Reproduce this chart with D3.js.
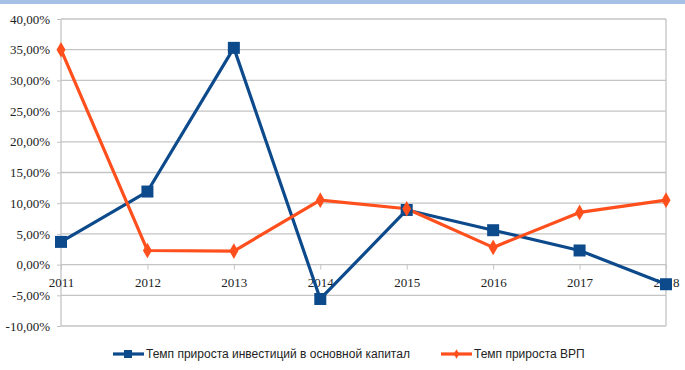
<!DOCTYPE html>
<html><head><meta charset="utf-8">
<script src="https://cdn.jsdelivr.net/npm/d3@7"></script>
<style>body{margin:0;background:#fff}svg{display:block}</style>
</head><body><svg id="c" width="685" height="370"></svg>
<script>
const years = ["2011","2012","2013","2014","2015","2016","2017","2018"];
const investment = [3.7, 11.9, 35.3, -5.6, 8.9, 5.6, 2.3, -3.2];
const grp = [35.0, 2.3, 2.2, 10.5, 9.1, 2.8, 8.5, 10.5];
const yTicks = [-10,-5,0,5,10,15,20,25,30,35,40];
const seriesNames = ["Темп прироста инвестиций в основной капитал","Темп прироста ВРП"];

const svg = d3.select("#c");
const W=685,H=370;
const L=61,R=666,T=19,B=326;
const blue="#0d4a8c", orange="#ff4f1c";

svg.append("rect").attr("x",0).attr("y",0).attr("width",W).attr("height",4).attr("fill","#a7c0e6");

const x = d3.scalePoint().domain(years).range([L,R]);
const y = d3.scaleLinear().domain([-10,40]).range([B,T]);
const fmt = v => v.toFixed(2).replace(".",",")+"%";

svg.append("g").selectAll("line").data(yTicks).join("line")
  .attr("x1",L).attr("x2",R).attr("y1",d=>y(d)).attr("y2",d=>y(d))
  .attr("stroke","#c4c4c4").attr("stroke-width",1.3);
svg.append("line").attr("x1",L).attr("x2",L).attr("y1",T).attr("y2",B).attr("stroke","#c4c4c4").attr("stroke-width",1.3);
svg.append("line").attr("x1",R).attr("x2",R).attr("y1",T).attr("y2",B).attr("stroke","#c4c4c4").attr("stroke-width",1.3);

const yAxis = d3.axisLeft(y).tickValues(yTicks).tickFormat(fmt).tickSize(4).tickPadding(7);
const gy = svg.append("g").attr("transform",`translate(${L},0)`).call(yAxis);
gy.select(".domain").remove();
gy.selectAll(".tick line").attr("stroke","#c4c4c4");
gy.selectAll("text").attr("font-family","Liberation Serif, serif").attr("font-size",13).attr("fill","#222");

const xAxis = d3.axisBottom(x).tickSize(5).tickPadding(8);
const gx = svg.append("g").attr("transform",`translate(0,${y(0)})`).call(xAxis);
gx.select(".domain").remove();
gx.selectAll(".tick line").attr("stroke","#c4c4c4");
gx.selectAll("text").attr("font-family","Liberation Serif, serif").attr("font-size",13).attr("fill","#222");

const line = d3.line().x((d,i)=>x(years[i])).y(d=>y(d));

svg.append("path").datum(investment).attr("d",line).attr("fill","none").attr("stroke",blue).attr("stroke-width",3.2).attr("stroke-linejoin","round");
svg.append("path").datum(grp).attr("d",line).attr("fill","none").attr("stroke",orange).attr("stroke-width",3.2).attr("stroke-linejoin","round");

svg.append("g").selectAll("rect").data(investment).join("rect")
  .attr("x",(d,i)=>x(years[i])-6).attr("y",d=>y(d)-6).attr("width",12).attr("height",12).attr("fill",blue);
const diamond = d3.symbol().type(d3.symbolDiamond).size(70);
svg.append("g").selectAll("path").data(grp).join("path")
  .attr("transform",(d,i)=>`translate(${x(years[i])},${y(d)})`)
  .attr("d",diamond).attr("fill",orange);

const lg = svg.append("g");
const items=[{x:113,c:blue,t:seriesNames[0],m:"sq"},{x:441,c:orange,t:seriesNames[1],m:"dm"}];
items.forEach(it=>{
  lg.append("line").attr("x1",it.x).attr("x2",it.x+31).attr("y1",354).attr("y2",354).attr("stroke",it.c).attr("stroke-width",3.2);
  if(it.m==="sq") lg.append("rect").attr("x",it.x+11).attr("y",350).attr("width",8).attr("height",8).attr("fill",it.c);
  else lg.append("path").attr("transform",`translate(${it.x+15.5},354)`).attr("d",d3.symbol().type(d3.symbolDiamond).size(25)).attr("fill",it.c);
  lg.append("text").attr("x",it.x+33).attr("y",358).text(it.t)
    .attr("font-family","Liberation Sans, Arial, sans-serif").attr("font-size",12).attr("fill","#222");
});
</script></body></html>
